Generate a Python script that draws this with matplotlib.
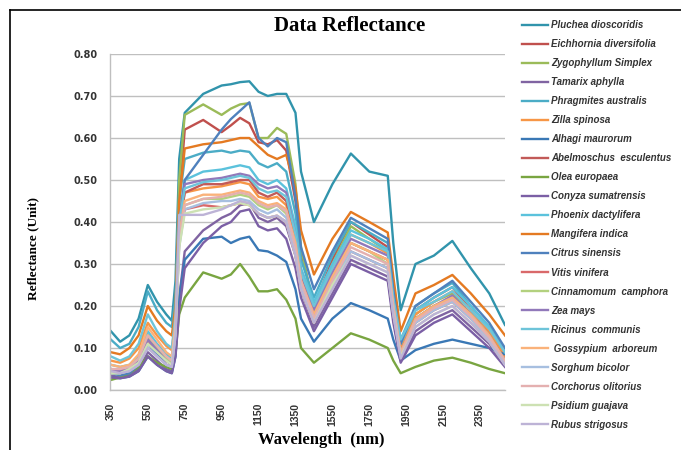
import matplotlib.pyplot as plt
from matplotlib.lines import Line2D

# wavelength knots (nm)
wavelength = [350, 400, 450, 500, 550, 600, 650, 680, 700, 720, 750, 850, 950, 1000,
              1050, 1100, 1150, 1200, 1250, 1300, 1350, 1380, 1450, 1550, 1650, 1750,
              1850, 1880, 1920, 2000, 2100, 2200, 2300, 2400, 2485]

pluchea = [0.14, 0.115, 0.13, 0.17, 0.25, 0.21, 0.18, 0.165, 0.26, 0.55, 0.66, 0.705, 0.725, 0.728,
           0.733, 0.735, 0.71, 0.70, 0.705, 0.705, 0.66, 0.52, 0.40, 0.49, 0.563, 0.52,
           0.51, 0.35, 0.19, 0.30, 0.32, 0.355, 0.29, 0.23, 0.155]
eichhornia = [0.05, 0.045, 0.05, 0.07, 0.12, 0.09, 0.07, 0.06, 0.15, 0.45, 0.62, 0.643, 0.614, 0.63,
              0.648, 0.635, 0.59, 0.585, 0.595, 0.57, 0.45, 0.33, 0.20, 0.31, 0.40, 0.37,
              0.34, 0.22, 0.10, 0.19, 0.22, 0.245, 0.19, 0.14, 0.08]
zygophyllum = [0.045, 0.04, 0.05, 0.07, 0.13, 0.10, 0.075, 0.065, 0.18, 0.50, 0.655, 0.68, 0.655, 0.67,
               0.68, 0.683, 0.60, 0.60, 0.624, 0.61, 0.49, 0.34, 0.19, 0.30, 0.39, 0.36,
               0.33, 0.21, 0.09, 0.18, 0.21, 0.23, 0.18, 0.13, 0.07]
tamarix = [0.035, 0.03, 0.035, 0.05, 0.09, 0.07, 0.05, 0.045, 0.09, 0.22, 0.33, 0.38, 0.41, 0.42,
           0.44, 0.445, 0.41, 0.40, 0.41, 0.39, 0.32, 0.24, 0.15, 0.23, 0.31, 0.29,
           0.27, 0.17, 0.07, 0.14, 0.17, 0.19, 0.15, 0.11, 0.06]
phragmites = [0.12, 0.10, 0.11, 0.15, 0.235, 0.19, 0.16, 0.15, 0.22, 0.45, 0.55, 0.565, 0.57, 0.565,
              0.57, 0.567, 0.54, 0.53, 0.54, 0.52, 0.42, 0.31, 0.22, 0.32, 0.40, 0.375,
              0.35, 0.23, 0.12, 0.20, 0.23, 0.255, 0.20, 0.15, 0.09]
zilla = [0.07, 0.065, 0.075, 0.10, 0.16, 0.13, 0.105, 0.095, 0.17, 0.40, 0.47, 0.48, 0.485, 0.49,
         0.495, 0.49, 0.46, 0.455, 0.46, 0.44, 0.36, 0.27, 0.19, 0.29, 0.37, 0.35,
         0.325, 0.21, 0.10, 0.18, 0.21, 0.235, 0.19, 0.14, 0.08]
alhagi = [0.03, 0.028, 0.032, 0.045, 0.08, 0.06, 0.045, 0.04, 0.08, 0.22, 0.31, 0.36, 0.365, 0.35,
          0.36, 0.365, 0.333, 0.33, 0.32, 0.305, 0.24, 0.17, 0.115, 0.17, 0.207, 0.19,
          0.17, 0.12, 0.07, 0.095, 0.11, 0.12, 0.11, 0.10, 0.085]
abelmoschus = [0.05, 0.045, 0.05, 0.07, 0.13, 0.10, 0.075, 0.065, 0.15, 0.38, 0.47, 0.49, 0.49, 0.495,
               0.50, 0.50, 0.47, 0.46, 0.47, 0.45, 0.36, 0.27, 0.18, 0.27, 0.35, 0.33,
               0.31, 0.20, 0.09, 0.17, 0.20, 0.22, 0.18, 0.13, 0.07]
olea = [0.024, 0.03, 0.04, 0.055, 0.08, 0.065, 0.055, 0.05, 0.09, 0.18, 0.22, 0.28, 0.265, 0.275,
        0.30, 0.27, 0.235, 0.235, 0.24, 0.215, 0.17, 0.10, 0.065, 0.10, 0.135, 0.12,
        0.10, 0.07, 0.04, 0.055, 0.07, 0.077, 0.065, 0.05, 0.04]
conyza = [0.03, 0.028, 0.032, 0.045, 0.08, 0.06, 0.045, 0.04, 0.08, 0.19, 0.29, 0.35, 0.39, 0.40,
          0.425, 0.43, 0.39, 0.38, 0.385, 0.36, 0.29, 0.22, 0.14, 0.22, 0.30, 0.28,
          0.26, 0.16, 0.065, 0.13, 0.16, 0.18, 0.14, 0.10, 0.055]
phoenix = [0.06, 0.055, 0.06, 0.08, 0.14, 0.11, 0.085, 0.075, 0.16, 0.42, 0.50, 0.52, 0.525, 0.53,
           0.535, 0.53, 0.50, 0.49, 0.50, 0.48, 0.39, 0.29, 0.21, 0.30, 0.38, 0.36,
           0.335, 0.22, 0.11, 0.19, 0.22, 0.245, 0.20, 0.15, 0.09]
mangifera = [0.09, 0.085, 0.10, 0.13, 0.20, 0.165, 0.14, 0.13, 0.20, 0.45, 0.575, 0.585, 0.59, 0.595,
             0.60, 0.60, 0.58, 0.56, 0.55, 0.56, 0.48, 0.38, 0.275, 0.36, 0.424, 0.40,
             0.375, 0.27, 0.14, 0.23, 0.25, 0.274, 0.23, 0.18, 0.13]
citrus = [0.04, 0.035, 0.04, 0.06, 0.11, 0.085, 0.06, 0.055, 0.13, 0.38, 0.50, 0.56, 0.62, 0.645,
          0.665, 0.685, 0.60, 0.58, 0.60, 0.59, 0.46, 0.34, 0.24, 0.33, 0.41, 0.385,
          0.36, 0.24, 0.11, 0.20, 0.23, 0.26, 0.21, 0.16, 0.10]
vitis = [0.05, 0.045, 0.05, 0.07, 0.12, 0.095, 0.07, 0.06, 0.14, 0.35, 0.43, 0.44, 0.435, 0.44,
         0.445, 0.44, 0.42, 0.41, 0.415, 0.40, 0.32, 0.24, 0.16, 0.25, 0.33, 0.31,
         0.29, 0.19, 0.08, 0.16, 0.19, 0.21, 0.17, 0.12, 0.065]
cinnamomum = [0.04, 0.04, 0.05, 0.07, 0.13, 0.10, 0.075, 0.065, 0.15, 0.37, 0.44, 0.455, 0.455, 0.46,
              0.465, 0.46, 0.44, 0.43, 0.44, 0.42, 0.34, 0.25, 0.17, 0.26, 0.35, 0.33,
              0.30, 0.20, 0.09, 0.17, 0.20, 0.22, 0.18, 0.13, 0.07]
zea = [0.05, 0.045, 0.05, 0.07, 0.12, 0.095, 0.07, 0.06, 0.15, 0.40, 0.49, 0.50, 0.505, 0.51,
       0.515, 0.51, 0.49, 0.48, 0.485, 0.47, 0.37, 0.28, 0.19, 0.28, 0.36, 0.34,
       0.32, 0.21, 0.09, 0.17, 0.20, 0.225, 0.18, 0.13, 0.07]
ricinus = [0.08, 0.07, 0.08, 0.11, 0.18, 0.14, 0.11, 0.10, 0.18, 0.40, 0.48, 0.495, 0.50, 0.505,
           0.51, 0.505, 0.48, 0.47, 0.475, 0.46, 0.37, 0.28, 0.20, 0.29, 0.37, 0.35,
           0.33, 0.22, 0.12, 0.19, 0.21, 0.235, 0.19, 0.145, 0.09]
gossypium = [0.06, 0.055, 0.06, 0.085, 0.15, 0.12, 0.09, 0.08, 0.16, 0.37, 0.45, 0.465, 0.465, 0.47,
             0.475, 0.47, 0.45, 0.44, 0.445, 0.43, 0.35, 0.26, 0.18, 0.27, 0.35, 0.33,
             0.31, 0.20, 0.09, 0.17, 0.20, 0.22, 0.18, 0.13, 0.07]
sorghum = [0.04, 0.04, 0.045, 0.06, 0.10, 0.08, 0.06, 0.055, 0.13, 0.34, 0.43, 0.445, 0.45, 0.45,
           0.455, 0.45, 0.43, 0.42, 0.43, 0.41, 0.33, 0.25, 0.17, 0.25, 0.33, 0.31,
           0.29, 0.19, 0.08, 0.16, 0.19, 0.21, 0.17, 0.12, 0.065]
corchorus = [0.05, 0.05, 0.055, 0.075, 0.13, 0.105, 0.08, 0.07, 0.15, 0.36, 0.44, 0.455, 0.46, 0.465,
             0.47, 0.465, 0.445, 0.435, 0.44, 0.425, 0.34, 0.26, 0.17, 0.26, 0.34, 0.32,
             0.30, 0.20, 0.085, 0.165, 0.195, 0.215, 0.175, 0.125, 0.07]
psidium = [0.04, 0.04, 0.05, 0.065, 0.11, 0.09, 0.07, 0.06, 0.14, 0.34, 0.42, 0.43, 0.435, 0.44,
           0.445, 0.44, 0.42, 0.41, 0.415, 0.40, 0.32, 0.24, 0.16, 0.25, 0.32, 0.30,
           0.28, 0.18, 0.08, 0.15, 0.18, 0.20, 0.16, 0.115, 0.06]
rubus = [0.045, 0.04, 0.045, 0.06, 0.10, 0.08, 0.06, 0.055, 0.13, 0.417, 0.417, 0.417, 0.43, 0.44,
         0.45, 0.445, 0.42, 0.41, 0.415, 0.40, 0.32, 0.24, 0.16, 0.24, 0.32, 0.30,
         0.28, 0.18, 0.075, 0.15, 0.18, 0.20, 0.16, 0.115, 0.06]

species = ["Pluchea dioscoridis", "Eichhornia diversifolia", "Zygophyllum Simplex",
           "Tamarix aphylla", "Phragmites australis", "Zilla spinosa", "Alhagi maurorum",
           "Abelmoschus  esculentus", "Olea europaea", "Conyza sumatrensis",
           "Phoenix dactylifera", "Mangifera indica", "Citrus sinensis", "Vitis vinifera",
           "Cinnamomum  camphora", "Zea mays", "Ricinus  communis", " Gossypium  arboreum",
           "Sorghum bicolor", "Corchorus olitorius", "Psidium guajava", "Rubus strigosus"]
series = [pluchea, eichhornia, zygophyllum, tamarix, phragmites, zilla, alhagi, abelmoschus,
          olea, conyza, phoenix, mangifera, citrus, vitis, cinnamomum, zea, ricinus, gossypium,
          sorghum, corchorus, psidium, rubus]
colors = ["#3194AC", "#C0504D", "#9BBB59", "#8064A2", "#4BACC6", "#F79646", "#3A78B5",
          "#C25A58", "#79A541", "#7B5FA5", "#5BC2DC", "#E47A22", "#4F81BD", "#D9696A",
          "#B3D17F", "#9179BA", "#6EC4D9", "#FAB27A", "#A7BFE0", "#E4B0B0", "#CDE1B3", "#BDB3D6"]

fig = plt.figure(figsize=(6.81, 4.5), dpi=100)
ax = fig.add_axes([0.1615, 0.1333, 0.58, 0.7467])

for name, vals, c in zip(species, series, colors):
    ax.plot(wavelength, vals, color=c, lw=1.7, label=name, solid_joinstyle='round')

ax.set_xlim(345, 2485)
ax.set_ylim(0, 0.8)
ax.set_yticks([i / 10 for i in range(9)])
ax.set_yticklabels([f"{i / 10:.2f}" for i in range(9)], fontsize=7, fontweight='bold',
                   color='#333333', family='DejaVu Sans')
ax.set_xticks(range(350, 2351, 200))
ax.set_xticklabels([str(v) for v in range(350, 2351, 200)], rotation=90, fontsize=7.5,
                   fontweight='bold', color='#333333', family='Liberation Sans')
ax.tick_params(axis='y', length=0, pad=9)
ax.tick_params(axis='x', length=0, pad=9)
ax.grid(axis='y', color='#BFBFBF', lw=1)
ax.set_axisbelow(True)
for s in ['top', 'right']:
    ax.spines[s].set_visible(False)
for s in ['left', 'bottom']:
    ax.spines[s].set_color('#BFBFBF')
    ax.spines[s].set_linewidth(1)

fig.text(0.514, 1 - 26 / 450, "Data Reflectance", ha='center', va='center',
         family='Liberation Serif', fontweight='bold', fontsize=15)
fig.text(0.471, 1 - 440 / 450, "Wavelength  (nm)", ha='center', va='center',
         family='Liberation Serif', fontweight='bold', fontsize=12)
fig.text(33 / 681, 1 - 249 / 450, "Reflectance (Unit)", ha='center', va='center', rotation=90,
         family='Liberation Serif', fontweight='bold', fontsize=9.5)

fig.legend(loc='upper left', bbox_to_anchor=(522 / 681, 1 - 20 / 450), frameon=False,
           prop={'family': 'Liberation Sans', 'weight': 'bold', 'style': 'italic', 'size': 7},
           labelcolor='#333333', handlelength=2.7, handletextpad=0.3, labelspacing=0.93,
           borderpad=0, borderaxespad=0)

# page frame lines
fig.add_artist(Line2D([10 / 681, 1], [1 - 10 / 450, 1 - 10 / 450], color='black', lw=1.2))
fig.add_artist(Line2D([10 / 681, 10 / 681], [0, 1 - 10 / 450], color='black', lw=1.2))

fig.savefig("out.png", dpi=100)
